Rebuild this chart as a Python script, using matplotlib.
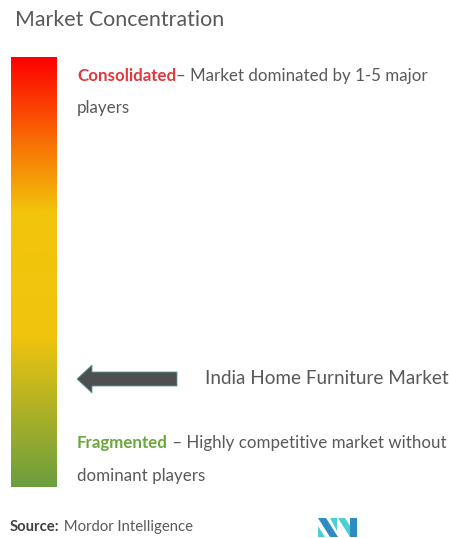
import numpy as np
import matplotlib
matplotlib.use('Agg')
import matplotlib.pyplot as plt
from matplotlib.colors import LinearSegmentedColormap
from matplotlib.patches import Polygon

# gradient stops for the concentration bar (top -> bottom)
stop_pos = [0.0, 0.22, 0.36, 0.65, 1.0]
stop_colors = ['#ff0000', '#f77c05', '#f3c40c', '#f0c40e', '#6b9e3e']

title = 'Market Concentration'
consolidated_label = 'Consolidated'
consolidated_text = ['– Market dominated by 1-5 major', 'players']
fragmented_label = 'Fragmented'
fragmented_text = [' – Highly competitive market without', 'dominant players']
market_name = 'India Home Furniture Market'
source_label = 'Source:'
source_name = ' Mordor Intelligence'

W, H = 449, 538
fig = plt.figure(figsize=(W / 100, H / 100), dpi=100)
ax = fig.add_axes([0, 0, 1, 1])
ax.set_xlim(0, W)
ax.set_ylim(H, 0)
ax.axis('off')

plt.rcParams['font.family'] = ['Lato', 'DejaVu Sans']
gray = '#595959'
body = 12.2


def text_after(t, y, s, **kw):
    # place a second text run right after an existing one
    fig.canvas.draw()
    bb = t.get_window_extent().transformed(ax.transData.inverted())
    return ax.text(bb.x1, y, s, va='center', ha='left', **kw)


# gradient bar
cmap = LinearSegmentedColormap.from_list('conc', list(zip(stop_pos, stop_colors)))
grad = np.linspace(0, 1, 256).reshape(-1, 1)
ax.imshow(grad, cmap=cmap, aspect='auto', extent=(11, 57, 487, 57), zorder=1)

ax.text(15, 20, title, fontsize=15.4, color=gray, va='center', ha='left')

# consolidated
t = ax.text(77, 76, consolidated_label, fontsize=body, color='#e0383e',
            fontweight='bold', va='center', ha='left')
text_after(t, 76, consolidated_text[0], fontsize=body, color=gray)
ax.text(77, 108, consolidated_text[1], fontsize=body, color=gray, va='center', ha='left')

# arrow + market name
arrow = [(77, 379), (92, 365), (92, 372), (177, 372), (177, 386), (92, 386), (92, 393)]
ax.add_patch(Polygon(arrow, closed=True, facecolor='#4d4f51', edgecolor='#5f9c9c',
                     lw=0.6, zorder=2))
ax.text(205, 378, market_name, fontsize=13.6, color=gray, va='center', ha='left')

# fragmented
t = ax.text(77, 443, fragmented_label, fontsize=body, color='#6aa83c',
            fontweight='bold', va='center', ha='left')
text_after(t, 443, fragmented_text[0], fontsize=body, color=gray)
ax.text(77, 476, fragmented_text[1], fontsize=body, color=gray, va='center', ha='left')

# source
t = ax.text(10, 527, source_label, fontsize=10.75, color='#404040', fontweight='bold',
            va='center', ha='left')
text_after(t, 527, source_name, fontsize=10.75, color=gray)

# logo
blue, teal = '#2f8cc2', '#4ccfd2'
logo = [
    ([(318, 518), (326, 518), (338, 537), (330, 537)], blue),
    ([(318, 526), (318, 537), (325, 537)], teal),
    ([(330, 518), (337, 518), (337, 531)], teal),
    ([(338, 518), (345, 518), (357, 537), (350, 537)], teal),
    ([(350, 518), (357, 518), (357, 537), (350, 537)], blue),
]
for pts, c in logo:
    ax.add_patch(Polygon(pts, closed=True, color=c, lw=0))

fig.savefig('out.png', dpi=100)
